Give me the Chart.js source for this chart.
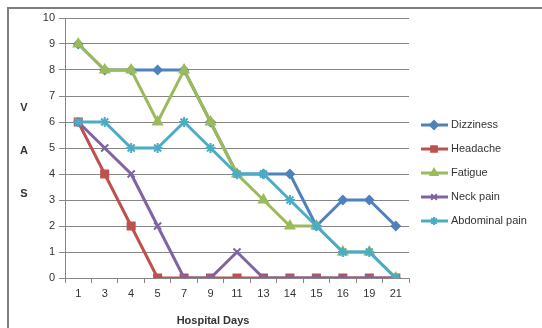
<!DOCTYPE html>
<html>
<head>
<meta charset="utf-8">
<script src="https://cdn.jsdelivr.net/npm/chart.js@4.4.1/dist/chart.umd.min.js"></script>
<style>
  html, body { margin: 0; padding: 0; background: #fff; }
  #wrap { width: 542px; height: 328px; position: relative; }
</style>
</head>
<body>
<div id="wrap"><canvas id="vasChart" width="542" height="328"></canvas></div>
<script>
// Hospital day categories and VAS scores per symptom
const days = ['1', '3', '4', '5', '7', '9', '11', '13', '14', '15', '16', '19', '21'];
const dizziness = [9, 8, 8, 8, 8, 6, 4, 4, 4, 2, 3, 3, 2];
const headache = [6, 4, 2, 0, 0, 0, 0, 0, 0, 0, 0, 0, 0];
const fatigue = [9, 8, 8, 6, 8, 6, 4, 3, 2, 2, 1, 1, 0];
const neckPain = [6, 5, 4, 2, 0, 0, 1, 0, 0, 0, 0, 0, 0];
const abdominalPain = [6, 6, 5, 5, 6, 5, 4, 4, 3, 2, 1, 1, 0];
const yTicks = [0, 1, 2, 3, 4, 5, 6, 7, 8, 9, 10];

const FONT = "'Liberation Sans', Arial, sans-serif";
const textColor = '#333333';

function series(label, data, color, style, radius, order) {
  return {
    label: label,
    data: data,
    borderColor: color,
    backgroundColor: color,
    borderWidth: 3,
    pointStyle: style,
    pointRadius: radius,
    pointBorderColor: color,
    pointBackgroundColor: color,
    pointBorderWidth: 2,
    tension: 0,
    fill: false,
    order: order
  };
}

// Frame, VAS letters, axis title and an Excel-style legend (line through marker)
const decorPlugin = {
  id: 'decor',
  afterDraw(chart) {
    const ctx = chart.ctx;
    ctx.save();
    ctx.strokeStyle = '#7f7f7f';
    ctx.lineWidth = 2;
    ctx.beginPath();
    ctx.moveTo(8, 328);
    ctx.lineTo(8, 8);
    ctx.lineTo(542, 8);
    ctx.stroke();

    ctx.fillStyle = textColor;
    ctx.font = 'bold 11px ' + FONT;
    ctx.textAlign = 'center';
    ctx.textBaseline = 'middle';
    ctx.fillText('V', 24, 108);
    ctx.fillText('A', 24, 151);
    ctx.fillText('S', 24, 194);
    ctx.fillText('Hospital Days', 213, 321);

    ctx.font = '11px ' + FONT;
    ctx.textAlign = 'left';
    chart.data.datasets.forEach((ds, i) => {
      const y = 125 + i * 24;
      ctx.strokeStyle = ds.borderColor;
      ctx.lineWidth = 3;
      ctx.beginPath();
      ctx.moveTo(421, y);
      ctx.lineTo(448, y);
      ctx.stroke();
      ctx.fillStyle = ds.borderColor;
      ctx.strokeStyle = ds.borderColor;
      ctx.lineWidth = 2;
      Chart.helpers.drawPoint(ctx, {
        pointStyle: ds.pointStyle,
        radius: 4,
        borderWidth: 2,
        rotation: 0
      }, 434, y);
      ctx.fillStyle = textColor;
      ctx.fillText(ds.label, 451, y);
    });
    ctx.restore();
  }
};

new Chart(document.getElementById('vasChart'), {
  type: 'line',
  data: {
    labels: days,
    datasets: [
      series('Dizziness', dizziness, '#4f81bd', 'rectRot', 4, 5),
      series('Headache', headache, '#c0504d', 'rect', 5, 4),
      series('Fatigue', fatigue, '#9bbb59', 'triangle', 5, 3),
      series('Neck pain', neckPain, '#8064a2', 'crossRot', 5, 2),
      series('Abdominal pain', abdominalPain, '#4bacc6', 'star', 5, 1)
    ]
  },
  plugins: [decorPlugin],
  options: {
    responsive: false,
    animation: false,
    layout: { padding: { left: 30, right: 133, top: 18, bottom: 0 } },
    plugins: {
      legend: { display: false },
      tooltip: { enabled: false }
    },
    scales: {
      x: {
        offset: true,
        grid: {
          display: true,
          drawOnChartArea: false,
          drawTicks: true,
          tickLength: 5,
          color: '#868686',
          offset: true
        },
        border: { color: '#868686', width: 1 },
        ticks: {
          color: textColor,
          font: { family: FONT, size: 11 },
          maxRotation: 0,
          autoSkip: false,
          padding: 4
        },
        afterFit(scale) { scale.height = 50; }
      },
      y: {
        min: 0,
        max: 10,
        afterBuildTicks(scale) { scale.ticks = yTicks.map(v => ({ value: v })); },
        grid: {
          color: '#868686',
          tickLength: 6,
          lineWidth: 1
        },
        border: { color: '#868686', width: 1 },
        ticks: {
          color: textColor,
          font: { family: FONT, size: 11 },
          padding: 4
        },
        afterFit(scale) { scale.width = 35; }
      }
    }
  }
});
</script>
</body>
</html>
